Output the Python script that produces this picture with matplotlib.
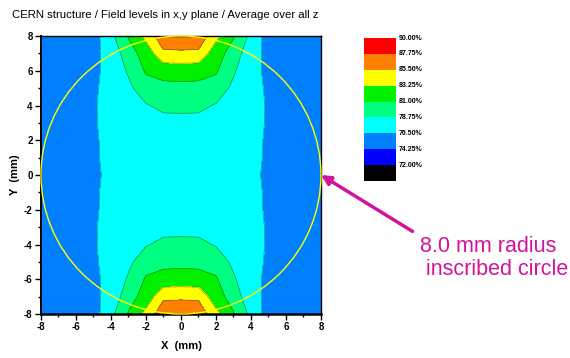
import numpy as np
import matplotlib.pyplot as plt
from matplotlib.patches import Circle

plt.rcParams['font.family'] = ['Liberation Sans', 'DejaVu Sans']
plt.rcParams['axes.unicode_minus'] = False

# field level (%), one quadrant (x = 0..8, y = 0..8 mm), mirrored
x_quad = [0, 1, 2, 3, 4, 5, 6, 7, 8]
y_quad = [0, 1, 2, 3, 4, 5, 6, 7, 8]
level_quad = [
    [79.6, 79.55, 79.5, 79.4, 79.3, 78.3, 77.5, 77.3, 77.2],    # y = 0
    [79.7, 79.65, 79.6, 79.5, 79.4, 78.4, 77.5, 77.3, 77.2],    # y = 1
    [79.9, 79.85, 79.8, 79.7, 79.5, 78.4, 77.5, 77.3, 77.2],    # y = 2
    [80.27, 80.25, 80.1, 79.9, 79.6, 78.5, 77.5, 77.3, 77.2],   # y = 3
    [81.6, 81.55, 80.82, 80.2, 79.7, 78.5, 77.5, 77.3, 77.2],   # y = 4
    [82.75, 82.7, 82.3, 80.5, 79.6, 78.4, 77.5, 77.3, 77.2],    # y = 5
    [84.11, 84.0, 83.5, 81.3, 79.3, 78.38, 77.5, 77.3, 77.2],   # y = 6
    [87.34, 87.3, 84.0, 82.5, 79.2, 78.45, 77.5, 77.3, 77.2],   # y = 7
    [89.5, 89.3, 86.2, 83.4, 80.4, 77.78, 77.3, 77.2, 77.2],    # y = 8
]

levels = [72.0, 74.25, 76.5, 78.75, 81.0, 83.25, 85.5, 87.75, 90.0]
level_colors = ['#000000', '#0000ff', '#0080ff', '#00ffff', '#00ff80',
                '#00f000', '#ffff00', '#ff8000', '#ff0000']
radius_mm = 8.0
magenta = '#d2149c'

# mirror quadrant to the full plane
q = np.array(level_quad)
full = np.vstack([q[:0:-1], q])
full = np.hstack([full[:, :0:-1], full])
xs = np.concatenate([-np.array(x_quad[:0:-1]), x_quad])
ys = np.concatenate([-np.array(y_quad[:0:-1]), y_quad])
X, Y = np.meshgrid(xs, ys)

fig = plt.figure(figsize=(5.7, 3.58), dpi=100)
ax = fig.add_axes([0.0719, 0.1229, 0.4912, 0.7765])

bounds = levels + [levels[-1] + 2.25]
ax.contourf(X, Y, full, levels=bounds, colors=level_colors)
ax.contour(X, Y, full, levels=levels[1:], colors='#103030', linewidths=0.5, alpha=0.5)

ax.add_patch(Circle((0, 0), radius_mm, fill=False, ec='#ffff00', lw=1.0, clip_on=False, zorder=5))

ax.set_xlim(-8, 8)
ax.set_ylim(-8, 8)
ax.set_xticks(np.arange(-8, 9, 2))
ax.set_yticks(np.arange(-8, 9, 2))
ax.set_xticks(np.arange(-8, 9, 1), minor=True)
ax.set_yticks(np.arange(-8, 9, 1), minor=True)
ax.tick_params(which='both', direction='out', top=False, right=False, width=1)
ax.tick_params(which='major', length=4, labelsize=7, pad=2)
ax.tick_params(which='minor', length=2.5)
for lab in ax.get_xticklabels() + ax.get_yticklabels():
    lab.set_fontweight('bold')
for sp in ax.spines.values():
    sp.set_linewidth(1.0)
ax.spines['bottom'].set_linewidth(1.8)
ax.spines['left'].set_linewidth(1.4)

ax.set_xlabel('X  (mm)', fontsize=8, fontweight='bold', labelpad=6)
ax.set_ylabel('Y  (mm)', fontsize=8, fontweight='bold', labelpad=3)

fig.text(12 / 570, 1 - 15 / 358, 'CERN structure / Field levels in x,y plane / Average over all z',
         fontsize=8.2, va='center', ha='left')

# legend boxes
lax = fig.add_axes([0.6386, 0.4944, 0.0561, 0.3994])
lax.bar(np.zeros(len(levels)), np.ones(len(levels)), bottom=np.arange(len(levels)),
        color=level_colors, width=1.0)
for i, lev in enumerate(levels):
    lax.text(0.6, i + 1, f'{lev:.2f}%', fontsize=5, fontweight='bold', va='center', ha='left')
lax.set_xlim(-0.5, 0.5)
lax.set_ylim(0, len(levels))
lax.axis('off')

ax.annotate('8.0 mm radius\n inscribed circle', xy=(radius_mm, 0),
            xytext=(420, 358 - 236), textcoords='figure pixels',
            ha='left', va='top', fontsize=15.5, color=magenta, linespacing=1.15,
            arrowprops=dict(arrowstyle='-|>', color=magenta, lw=2.5, relpos=(0, 1),
                            shrinkA=4, shrinkB=0, mutation_scale=14))

fig.savefig('out.png', dpi=100)
